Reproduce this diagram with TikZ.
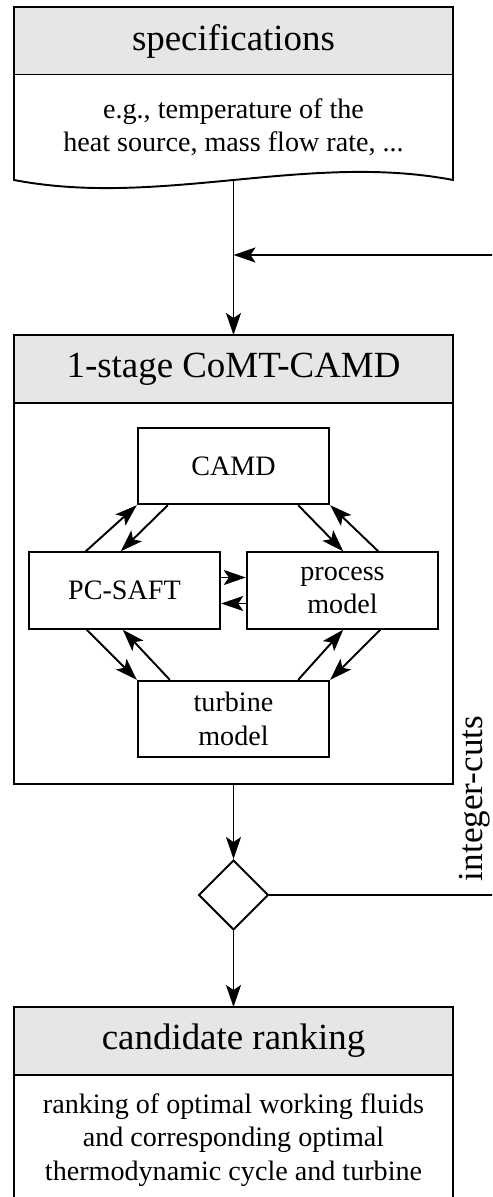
\documentclass[tikz,border=0pt]{standalone}
\usepackage{fontspec}
\setmainfont{Liberation Serif}
\usepackage{tikz}
\usetikzlibrary{positioning,shapes,arrows.meta}
\definecolor{hdrgray}{RGB}{230,230,230}

\begin{document}
\begin{tikzpicture}[line width=1.1pt,
    arr/.style={-{Stealth[length=0.44cm,width=0.3cm,inset=0.1cm]}},
    head/.style={draw=black,fill=hdrgray,minimum width=8.78cm,minimum height=1.36cm,outer sep=0pt,font=\fontsize{21}{25}\selectfont},
    body/.style={draw=black,fill=white,minimum width=8.78cm,outer sep=0pt,align=center,font=\fontsize{16}{19}\selectfont},
    unit/.style={draw=black,fill=white,minimum width=3.83cm,minimum height=1.53cm,align=center,font=\fontsize{16}{19}\selectfont},
    decision/.style={draw=black,diamond,minimum width=1.4cm,minimum height=1.4cm,inner sep=0pt}]

        \clip (0,0) rectangle (9.84,-23.94);

        \node[head] (spech) at (4.67,-0.82) {specifications};
        \node[body,draw=none,minimum height=2.1cm,below=0cm of spech] (specb) {e.g., temperature of the\\heat source, mass flow rate, ...};
        \draw (specb.north west) -- (specb.south west) .. controls +(2.92,-0.56) and +(-2.92,0.56) .. (specb.south east) -- (specb.north east);

        \node[head] (comth) at (4.67,-7.38) {1-stage CoMT-CAMD};
        \node[body,minimum height=7.62cm,below=0cm of comth] (comtb) {};

        \node[unit] (camd) at (4.67,-9.32) {CAMD};
        \node[unit] (pcsaft) at (2.49,-11.81) {PC-SAFT};
        \node[unit] (process) at (6.85,-11.81) {process\\model};
        \node[unit] (turbine) at (4.67,-14.38) {turbine\\model};

        \node[decision] (check) at (4.67,-17.90) {};

        \node[head] (rankh) at (4.67,-20.82) {candidate ranking};
        \node[body,minimum height=2.6cm,below=0cm of rankh] (rankb) {ranking of optimal working fluids\\and corresponding optimal\\thermodynamic cycle and turbine};

        \coordinate (join) at (4.67,-5.10);
        \coordinate (loop) at (10.10,-11.00);
        \node[rotate=90,anchor=south,inner sep=0pt,font=\fontsize{20}{24}\selectfont] (cutlabel) at (9.83,-15.97) {integer-cuts};

        \draw[arr] (specb.south) to (comth.north);
        \draw[arr] (check.east) -| (loop) |- (join);
        \draw[arr] (comtb.south) to (check.north);
        \draw[arr] (check.south) to (rankh.north);

        \draw[arr] ([yshift=0.26cm]pcsaft.east) to ([yshift=0.26cm]process.west);
        \draw[arr] ([yshift=-0.26cm]process.west) to ([yshift=-0.26cm]pcsaft.east);
        \draw[arr] ([xshift=1.16cm]pcsaft.north west) to (camd.south west);
        \draw[arr] ([xshift=0.62cm]camd.south west) to ([xshift=1.86cm]pcsaft.north west);
        \draw[arr] ([xshift=-0.64cm]camd.south east) to ([xshift=-1.92cm]process.north east);
        \draw[arr] ([xshift=-1.22cm]process.north east) to (camd.south east);
        \draw[arr] ([xshift=1.18cm]pcsaft.south west) to (turbine.north west);
        \draw[arr] ([xshift=0.66cm]turbine.north west) to ([xshift=1.90cm]pcsaft.south west);
        \draw[arr] ([xshift=-0.64cm]turbine.north east) to ([xshift=-1.92cm]process.south east);
        \draw[arr] ([xshift=-1.18cm]process.south east) to (turbine.north east);
    \end{tikzpicture}
\end{document}
